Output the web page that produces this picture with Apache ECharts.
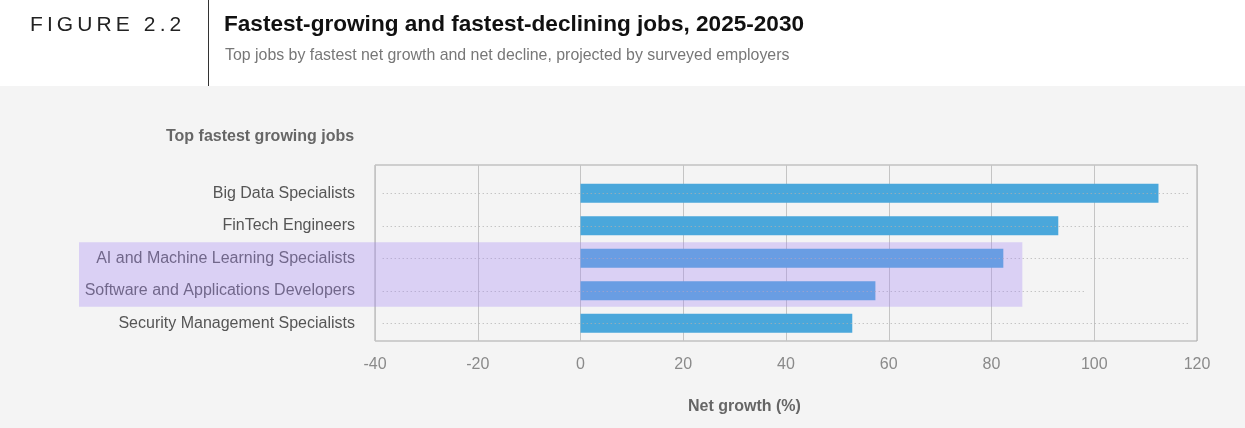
<!DOCTYPE html>
<html>
<head>
<meta charset="utf-8">
<script src="https://cdn.jsdelivr.net/npm/echarts@6/dist/echarts.min.js"></script>
<style>
  html, body { margin:0; padding:0; background:#fff; }
  #wrap { position:relative; width:1245px; height:428px; overflow:hidden; font-family:"Liberation Sans", Arial, Helvetica, sans-serif; }
  #chart { position:absolute; left:0; top:0; width:1245px; height:428px; }
  .hdr { position:absolute; pointer-events:none; white-space:nowrap; }
</style>
</head>
<body>
<div id="wrap">
  <div id="chart"></div>
  <div class="hdr" style="left:30px;top:12px;font-size:21px;letter-spacing:4.1px;color:#222;font-weight:300;">FIGURE 2.2</div>
  <div class="hdr" style="left:208px;top:0;width:1px;height:86px;background:#333;"></div>
  <div class="hdr" style="left:224px;top:11px;font-size:22.6px;font-weight:bold;color:#111;">Fastest-growing and fastest-declining jobs, 2025-2030</div>
  <div class="hdr" style="left:225px;top:46px;font-size:15.9px;color:#777;">Top jobs by fastest net growth and net decline, projected by surveyed employers</div>
</div>
<script>
const categories = [
  "Big Data Specialists",
  "FinTech Engineers",
  "AI and Machine Learning Specialists",
  "Software and Applications Developers",
  "Security Management Specialists"
];
const netGrowth = [112.5, 93.0, 82.3, 57.4, 52.9];
const highlighted = ["AI and Machine Learning Specialists", "Software and Applications Developers"];
const xTicks = [-40, -20, 0, 20, 40, 60, 80, 100, 120];
const highlightEndValue = 86;
const dottedLineEnds = [120, 120, 120, 100, 120];

const chart = echarts.init(document.getElementById('chart'));
const FONT = '"Liberation Sans", Arial, Helvetica, sans-serif';
const xMin = xTicks[0], xMax = xTicks[xTicks.length - 1];

const baseGraphic = [
  { type: 'rect', shape: { x: 0, y: 0, width: 1245, height: 86 }, style: { fill: '#ffffff' }, z: 0, silent: true },
  { type: 'text', left: 166, top: 129, style: { text: 'Top fastest growing jobs', fill: '#666', font: 'bold 16px ' + FONT }, silent: true },
  { type: 'text', left: 688, top: 399, style: { text: 'Net growth (%)', fill: '#666', font: 'bold 16px ' + FONT }, silent: true }
];

const option = {
  backgroundColor: '#f4f4f4',
  animation: false,
  textStyle: { fontFamily: FONT },
  grid: [
    { left: 375, right: 48, top: 165, bottom: 87, show: true, borderColor: '#a8a8a8', borderWidth: 1, backgroundColor: 'transparent' },
    { left: 375, right: 48, top: 177, bottom: 88.5, show: false }
  ],
  xAxis: [
    {
      gridIndex: 0, type: 'value', min: xMin, max: xMax, interval: 20,
      axisLine: { show: false }, axisTick: { show: false },
      splitLine: { show: true, lineStyle: { color: '#c4c4c4', width: 1 } },
      axisLabel: { color: '#8a8a8a', fontSize: 16, margin: 16, fontFamily: FONT }
    },
    {
      gridIndex: 1, type: 'value', min: xMin, max: xMax, interval: 20, show: false,
      splitLine: { show: false }
    }
  ],
  yAxis: [
    { gridIndex: 0, type: 'value', show: false, splitLine: { show: false } },
    {
      gridIndex: 1, type: 'category', data: categories, inverse: true,
      axisLine: { show: false }, axisTick: { show: false }, splitLine: { show: false },
      axisLabel: { color: '#555', fontSize: 16, margin: 20, fontFamily: FONT }
    }
  ],
  graphic: baseGraphic,
  series: [
    {
      type: 'line', xAxisIndex: 1, yAxisIndex: 1, data: [], z: 1, silent: true,
      markLine: {
        silent: true, symbol: 'none', label: { show: false },
        lineStyle: { type: [1, 3], color: '#b0b0b0', width: 1 },
        data: categories.map((c, i) => [
          { coord: [xMin + 1.5, c] },
          { coord: [dottedLineEnds[i] - 1.5, c] }
        ])
      }
    },
    {
      type: 'bar', xAxisIndex: 1, yAxisIndex: 1, z: 3, barWidth: 19,
      data: netGrowth.map(v => ({ value: v })),
      itemStyle: { color: '#4aa7db' }
    }
  ]
};
chart.setOption(option);

function addHighlight() {
  const i0 = categories.indexOf(highlighted[0]);
  const i1 = categories.indexOf(highlighted[highlighted.length - 1]);
  const p0 = chart.convertToPixel({ xAxisIndex: 1, yAxisIndex: 1 }, [highlightEndValue, categories[i0]]);
  const p1 = chart.convertToPixel({ xAxisIndex: 1, yAxisIndex: 1 }, [highlightEndValue, categories[i1]]);
  const top = p0[1] - 16, bottom = p1[1] + 16;
  const left = 79;
  chart.setOption({
    graphic: baseGraphic.concat([
      { type: 'rect', shape: { x: left, y: top, width: p0[0] - left, height: bottom - top }, style: { fill: 'rgba(168,138,242,0.34)' }, z: 100, silent: true }
    ])
  });
}
addHighlight();
</script>
</body>
</html>
